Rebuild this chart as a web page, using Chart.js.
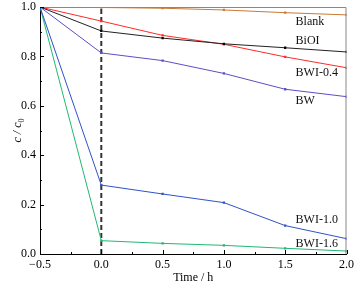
<!DOCTYPE html>
<html>
<head>
<meta charset="utf-8">
<script src="https://cdn.jsdelivr.net/npm/chart.js@4/dist/chart.umd.min.js"></script>
<style>
    html, body { margin: 0; padding: 0; background: #fff; }
    #wrap { width: 359px; height: 285px; }
</style>
</head>
<body>
<div id="wrap"><canvas id="chart" width="359" height="285"></canvas></div>
<script>
(function () {
    'use strict';

    // time points (h)
    var times = [-0.5, 0, 0.5, 1.0, 1.5, 2.0];

    var seriesNames = ['Blank', 'BiOI', 'BWI-0.4', 'BW', 'BWI-1.0', 'BWI-1.6'];
    var blank  = [1.0, 0.998, 0.995, 0.988, 0.977, 0.968];
    var bioi   = [1.0, 0.903, 0.874, 0.851, 0.835, 0.818];
    var bwi04  = [1.0, 0.943, 0.885, 0.849, 0.798, 0.754];
    var bw     = [1.0, 0.814, 0.783, 0.731, 0.667, 0.637];
    var bwi10  = [1.0, 0.279, 0.243, 0.208, 0.115, 0.062];
    var bwi16  = [1.0, 0.054, 0.043, 0.035, 0.023, 0.012];

    var seriesColors = ['#c97a35', '#222222', '#ff2a2a', '#5b4fc8', '#2f52c8', '#22b873'];

    // text labels next to the curves, in data units
    var labelX = 1.585;
    var labelY = [0.939, 0.864, 0.734, 0.621, 0.138, 0.040];

    var xTicks = [-0.5, 0, 0.5, 1.0, 1.5, 2.0];
    var xTickLabels = ['\u22120.5', '0.0', '0.5', '1.0', '1.5', '2.0'];
    var yTicks = [0, 0.2, 0.4, 0.6, 0.8, 1.0];
    var yTickLabels = ['0.0', '0.2', '0.4', '0.6', '0.8', '1.0'];

    var SERIF = '"Liberation Serif", "DejaVu Serif", serif';

    var allSeries = [blank, bioi, bwi04, bw, bwi10, bwi16];
    var datasets = [];
    for (var s = 0; s < allSeries.length; s++) {
        var pts = [];
        for (var i = 0; i < times.length; i++) {
            pts.push({ x: times[i], y: allSeries[s][i] });
        }
        datasets.push({
            label: seriesNames[s],
            data: pts,
            borderColor: seriesColors[s],
            backgroundColor: s === 1 ? '#000' : seriesColors[s],
            borderWidth: 1,
            pointStyle: 'rect',
            pointRadius: [0, 1.6, 1.6, 1.6, 1.6, 1.6],
            pointBorderWidth: 0,
            tension: 0
        });
    }
    // dashed marker line at t = 0
    datasets.push({
        label: 'light on',
        data: [{ x: 0, y: 0 }, { x: 0, y: 1 }],
        borderColor: '#333',
        borderWidth: 2,
        borderDash: [5, 3],
        pointRadius: 0
    });

    var decorPlugin = {
        id: 'decor',
        afterDatasetsDraw: function (chart) {
            var ctx = chart.ctx;
            var xs = chart.scales.x, ys = chart.scales.y;
            var area = chart.chartArea;
            ctx.save();

            // top/right frame
            ctx.strokeStyle = '#888';
            ctx.lineWidth = 1;
            ctx.beginPath();
            ctx.moveTo(area.left, area.top + 0.5);
            ctx.lineTo(area.right - 0.5, area.top + 0.5);
            ctx.lineTo(area.right - 0.5, area.bottom);
            ctx.stroke();

            // inward ticks
            ctx.strokeStyle = '#000';
            ctx.beginPath();
            var v, p;
            for (v = -0.5; v <= 2.0001; v += 0.25) {
                p = Math.round(xs.getPixelForValue(v)) + 0.5;
                var major = Math.abs(v * 2 - Math.round(v * 2)) < 1e-6;
                ctx.moveTo(p, area.bottom);
                ctx.lineTo(p, area.bottom - (major ? 4 : 2));
            }
            for (v = 0; v <= 1.0001; v += 0.1) {
                p = Math.round(ys.getPixelForValue(v)) + 0.5;
                var maj = Math.abs(v * 5 - Math.round(v * 5)) < 1e-6;
                ctx.moveTo(area.left, p);
                ctx.lineTo(area.left + (maj ? 4 : 2), p);
            }
            ctx.stroke();

            // curve labels
            ctx.fillStyle = '#111';
            ctx.font = '12px ' + SERIF;
            ctx.textAlign = 'left';
            ctx.textBaseline = 'middle';
            for (var k = 0; k < seriesNames.length; k++) {
                ctx.fillText(seriesNames[k], xs.getPixelForValue(labelX), ys.getPixelForValue(labelY[k]));
            }

            // y axis title: c / c0
            ctx.translate(17, (area.top + area.bottom) / 2);
            ctx.rotate(-Math.PI / 2);
            ctx.textBaseline = 'alphabetic';
            ctx.font = 'italic 12px ' + SERIF;
            var t1 = 'c / c';
            var w1 = ctx.measureText(t1).width;
            ctx.font = '8px ' + SERIF;
            var w2 = ctx.measureText('0').width;
            var x0 = -(w1 + w2) / 2;
            ctx.font = 'italic 12px ' + SERIF;
            ctx.fillText(t1, x0, 4);
            ctx.font = '8px ' + SERIF;
            ctx.fillText('0', x0 + w1, 7);
            ctx.restore();
        }
    };

    new Chart(document.getElementById('chart'), {
        type: 'line',
        data: { datasets: datasets },
        options: {
            responsive: false,
            animation: false,
            layout: { padding: { top: 0, right: 10, left: 0, bottom: 0 } },
            plugins: {
                legend: { display: false },
                tooltip: { enabled: false }
            },
            scales: {
                x: {
                    type: 'linear',
                    min: -0.5,
                    max: 2.0,
                    afterBuildTicks: function (axis) {
                        axis.ticks = xTicks.map(function (t) { return { value: t }; });
                    },
                    afterFit: function (axis) { axis.height = 31; },
                    ticks: {
                        color: '#000',
                        padding: 5,
                        maxRotation: 0,
                        font: { family: SERIF, size: 12, lineHeight: 1 },
                        callback: function (value) {
                            var idx = xTicks.indexOf(value);
                            return idx >= 0 ? xTickLabels[idx] : '';
                        }
                    },
                    grid: { display: false, drawTicks: false },
                    border: { display: true, color: '#000', width: 1 },
                    title: {
                        display: true,
                        text: 'Time / h',
                        color: '#000',
                        padding: { top: 3, bottom: 0 },
                        font: { family: SERIF, size: 12 }
                    }
                },
                y: {
                    min: 0,
                    max: 1.0,
                    afterBuildTicks: function (axis) {
                        axis.ticks = yTicks.map(function (t) { return { value: t }; });
                    },
                    afterFit: function (axis) {
                        axis.width = 40;
                        axis.paddingTop = 7;
                    },
                    ticks: {
                        color: '#000',
                        padding: 4,
                        font: { family: SERIF, size: 12, lineHeight: 1 },
                        callback: function (value) {
                            var idx = yTicks.indexOf(value);
                            return idx >= 0 ? yTickLabels[idx] : '';
                        }
                    },
                    grid: { display: false, drawTicks: false },
                    border: { display: true, color: '#000', width: 1 }
                }
            }
        },
        plugins: [decorPlugin]
    });
})();
</script>
</body>
</html>
